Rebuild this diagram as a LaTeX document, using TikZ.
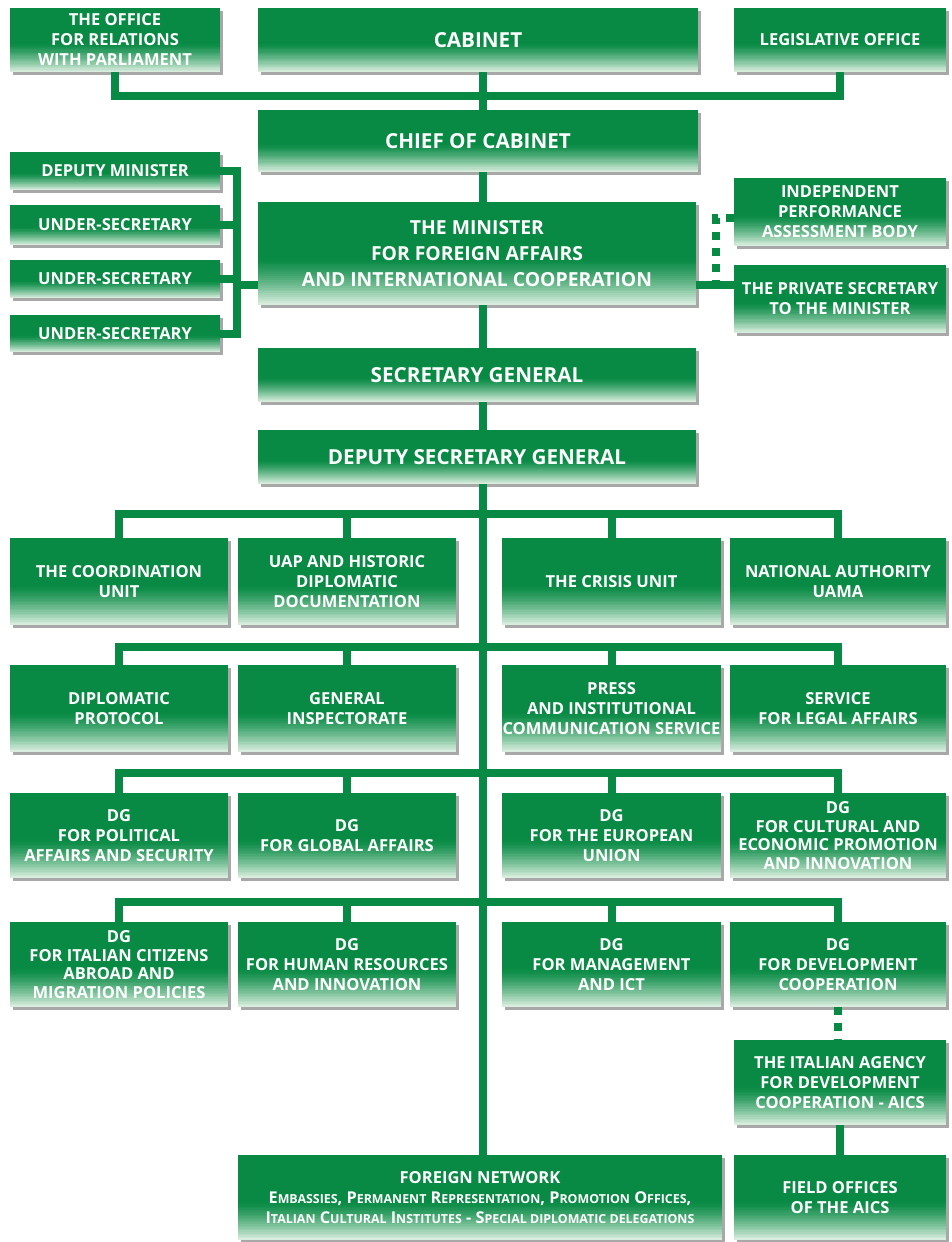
\documentclass[tikz,border=0pt]{standalone}
\usepackage{fontspec}
\setmainfont{Open Sans}
\usetikzlibrary{shadows,calc}
\definecolor{mgreen}{RGB}{8,138,68}
\definecolor{mlight}{RGB}{222,240,226}
\tikzset{
  box/.style={fill=mgreen, text=white, align=center, inner sep=0pt,
    font=\bfseries\fontsize{12.4}{15}\selectfont,
    drop shadow={shadow xshift=2.5pt, shadow yshift=-2.5pt, opacity=0.45, fill=black!75},
    path picture={
      \foreach \i in {0,...,23}{
        \pgfmathsetmacro\fa{0.45*\i/24}
        \pgfmathsetmacro\fb{0.45*(\i+1)/24+0.004}
        \pgfmathsetmacro\fc{100*(1-(\i+0.5)/24)^1.3}
        \fill[mlight!\fc!mgreen]
          ($(path picture bounding box.south west)!\fa!(path picture bounding box.north west)$)
          rectangle
          ($(path picture bounding box.south east)!\fb!(path picture bounding box.north east)$);
      }}},
  big/.style={font=\bfseries\fontsize{15.5}{20}\selectfont},
  link/.style={draw=mgreen, line width=6pt},
  dots/.style={draw=mgreen, line width=6pt, dash pattern=on 5.5pt off 6.5pt},
}
\newcommand\bx[7][]{\node[box,#1, minimum width={(#4-#2)*0.75pt}, minimum height={(#5-#3)*0.75pt}] (#6) at ({(#2+#4)/2},{(#3+#5)/2}) {#7};}
\newcommand\smc[1]{{\fontsize{9.3}{11}\selectfont #1}}
\begin{document}
\begin{tikzpicture}[x=0.75pt,y=-0.75pt]
\fill[white] (0,0) rectangle (952,1242);
\useasboundingbox (0,0) rectangle (952,1242);
% nodes
\bx{10}{8}{220}{72}{off}{THE OFFICE\\FOR RELATIONS\\WITH PARLIAMENT}
\bx[big]{258}{8}{698}{72}{cab}{CABINET}
\bx{734}{8}{946}{72}{leg}{LEGISLATIVE OFFICE}
\bx[big]{258}{110}{698}{172}{chief}{CHIEF OF CABINET}
\bx{10}{152}{220}{190}{dep}{DEPUTY MINISTER}
\bx{10}{205}{220}{245}{usa}{UNDER-SECRETARY}
\bx{10}{260}{220}{298}{usb}{UNDER-SECRETARY}
\bx{10}{315}{220}{352}{usc}{UNDER-SECRETARY}
\bx[font=\bfseries\fontsize{14.5}{19.5}\selectfont]{258}{202}{696}{305}{min}{THE MINISTER\\FOR FOREIGN AFFAIRS\\AND INTERNATIONAL COOPERATION}
\bx{734}{178}{946}{246}{ind}{INDEPENDENT\\PERFORMANCE\\ASSESSMENT BODY}
\bx{734}{265}{946}{333}{priv}{THE PRIVATE SECRETARY\\TO THE MINISTER}
\bx[big]{258}{348}{696}{402}{sg}{SECRETARY GENERAL}
\bx[big]{258}{430}{696}{484}{dsg}{DEPUTY SECRETARY GENERAL}
\bx{10}{538}{228}{625}{coord}{THE COORDINATION\\UNIT}
\bx{238}{538}{456}{625}{uap}{UAP AND HISTORIC\\DIPLOMATIC\\DOCUMENTATION}
\bx{502}{538}{721}{625}{crisis}{THE CRISIS UNIT}
\bx{730}{538}{946}{625}{nat}{NATIONAL AUTHORITY\\UAMA}
\bx{10}{665}{228}{752}{dip}{DIPLOMATIC\\PROTOCOL}
\bx{238}{665}{456}{752}{insp}{GENERAL\\INSPECTORATE}
\bx{502}{665}{721}{752}{press}{PRESS\\AND INSTITUTIONAL\\COMMUNICATION SERVICE}
\bx{730}{665}{946}{752}{legal}{SERVICE\\FOR LEGAL AFFAIRS}
\bx{10}{793}{228}{878}{pol}{DG\\FOR POLITICAL\\AFFAIRS AND SECURITY}
\bx{238}{793}{456}{878}{glob}{DG\\FOR GLOBAL AFFAIRS}
\bx{502}{793}{721}{878}{eu}{DG\\FOR THE EUROPEAN\\UNION}
\bx[font=\bfseries\fontsize{12.4}{14}\selectfont]{730}{793}{946}{878}{cult}{DG\\FOR CULTURAL AND\\ECONOMIC PROMOTION\\AND INNOVATION}
\bx[font=\bfseries\fontsize{12.4}{14}\selectfont]{10}{922}{228}{1007}{ita}{DG\\FOR ITALIAN CITIZENS\\ABROAD AND\\MIGRATION POLICIES}
\bx{238}{922}{456}{1007}{hr}{DG\\FOR HUMAN RESOURCES\\AND INNOVATION}
\bx{502}{922}{721}{1007}{mgmt}{DG\\FOR MANAGEMENT\\AND ICT}
\bx{730}{922}{946}{1007}{dev}{DG\\FOR DEVELOPMENT\\COOPERATION}
\bx{734}{1040}{946}{1125}{aics}{THE ITALIAN AGENCY\\FOR DEVELOPMENT\\COOPERATION - AICS}
\bx{238}{1155}{722}{1240}{fn}{FOREIGN NETWORK\\{\fontsize{12.2}{14.5}\selectfont E\smc{MBASSIES}, P\smc{ERMANENT} R\smc{EPRESENTATION}, P\smc{ROMOTION} O\smc{FFICES},}\\{\fontsize{12.2}{14.5}\selectfont I\smc{TALIAN} C\smc{ULTURAL} I\smc{NSTITUTES} - S\smc{PECIAL DIPLOMATIC DELEGATIONS}}}
\bx{734}{1155}{946}{1240}{field}{FIELD OFFICES\\OF THE AICS}
% helper coordinates
\coordinate (tr) at (483,0);
\coordinate (jz) at (483,96);
\coordinate (lb) at (237,0);
\coordinate (mlev) at (0,285);
\coordinate (rb) at (716,218);
\coordinate (ra) at (483,514);
\coordinate (rbw) at (483,647);
\coordinate (rc) at (483,773);
\coordinate (rd) at (483,902);
% connectors
\draw[link] (off.south) |- (jz) -| (leg.south);
\draw[link] (cab.south -| tr) -- (chief.north -| tr);
\draw[link] (chief.south -| tr) -- (min.north -| tr);
\draw[link] (min.south -| tr) -- (sg.north -| tr);
\draw[link] (sg.south -| tr) -- (dsg.north -| tr);
\draw[link] (dsg.south -| tr) -- (fn.north -| tr);
\draw[link] (dep.east) -| (usc.east -| lb) -- (usc.east);
\draw[link] (usa.east) -- (usa.east -| lb);
\draw[link] (usb.east) -- (usb.east -| lb);
\draw[link] (min.west |- mlev) -- (lb |- mlev);
\draw[link] (min.east |- mlev) -- (priv.west |- mlev);
\draw[dots] (ind.west |- rb) -- (rb) -- (rb |- mlev);
\draw[link] (coord.north) |- (ra) -| (nat.north);
\draw[link] (uap.north) -- (uap.north |- ra);
\draw[link] (crisis.north) -- (crisis.north |- ra);
\draw[link] (dip.north) |- (rbw) -| (legal.north);
\draw[link] (insp.north) -- (insp.north |- rbw);
\draw[link] (press.north) -- (press.north |- rbw);
\draw[link] (pol.north) |- (rc) -| (cult.north);
\draw[link] (glob.north) -- (glob.north |- rc);
\draw[link] (eu.north) -- (eu.north |- rc);
\draw[link] (ita.north) |- (rd) -| (dev.north);
\draw[link] (hr.north) -- (hr.north |- rd);
\draw[link] (mgmt.north) -- (mgmt.north |- rd);
\draw[dots] (dev.south) -- (dev.south |- aics.north);
\draw[link] (aics.south) -- (field.north);
\end{tikzpicture}
\end{document}
